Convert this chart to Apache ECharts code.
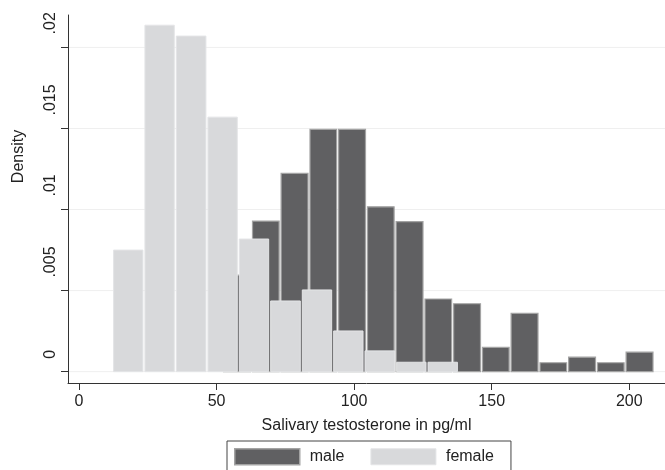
<!DOCTYPE html>
<html><head><meta charset="utf-8">
<script src="https://cdn.jsdelivr.net/npm/echarts@6/dist/echarts.min.js"></script>
<style>html,body{margin:0;padding:0;background:#fff}#c{width:665px;height:470px}</style>
</head><body><div id="c"></div><script>
// Bin edges (pg/ml) and densities
const femaleEdges = [12.2, 23.6, 35.0, 46.5, 57.9, 69.3, 80.8, 92.2, 103.6, 115.1, 126.5, 137.9];
const femaleDensity = [0.0075, 0.02137, 0.0207, 0.0157, 0.00818, 0.00436, 0.00504, 0.00251, 0.00128, 0.00058, 0.00058];
const maleEdges = [52.2, 62.7, 73.1, 83.6, 94.0, 104.5, 114.9, 125.4, 135.8, 146.3, 156.7, 167.2, 177.6, 188.1, 198.5, 209.0];
const maleDensity = [0.00596, 0.00929, 0.01223, 0.01494, 0.01494, 0.01017, 0.00925, 0.00448, 0.00419, 0.0015, 0.0036, 0.00055, 0.00089, 0.00055, 0.0012];
const xTicks = [0, 50, 100, 150, 200];
const xTickLabels = ['0', '50', '100', '150', '200'];
const yTicks = [0, 0.005, 0.01, 0.015, 0.02];
const yTickLabels = ['0', '.005', '.01', '.015', '.02'];
const seriesNames = ['male', 'female'];

const FONT = 'Liberation Sans, Arial, sans-serif';
const MALE_FILL = '#606062', MALE_STROKE = '#a3a3a3';
const FEMALE_FILL = '#d8d9db', FEMALE_STROKE = '#e4e5e7';

function binRows(edges, dens) {
  return dens.map((d, i) => [edges[i], edges[i + 1], d]);
}
function barRenderer(fill, stroke, lw) {
  return function (params, api) {
    const x0 = api.value(0), x1 = api.value(1), v = api.value(2);
    const p0 = api.coord([x0, v]);
    const p1 = api.coord([x1, 0]);
    const inset = 1;
    return {
      type: 'rect',
      shape: { x: p0[0] + inset, y: p0[1], width: p1[0] - p0[0] - 2 * inset, height: p1[1] - p0[1] },
      style: { fill: fill, stroke: stroke, lineWidth: lw }
    };
  };
}
function fmtTick(ticks, labels) {
  return function (v) {
    for (let i = 0; i < ticks.length; i++) if (Math.abs(ticks[i] - v) < 1e-9) return labels[i];
    return '';
  };
}

const chart = echarts.init(document.getElementById('c'), null, { renderer: 'canvas' });
chart.setOption({
  animation: false,
  backgroundColor: '#ffffff',
  textStyle: { fontFamily: FONT },
  grid: { left: 68, right: 0, top: 15, bottom: 87, containLabel: false },
  xAxis: {
    type: 'value', min: -4, max: 213,
    name: 'Salivary testosterone in pg/ml', nameLocation: 'middle', nameGap: 35,
    nameTextStyle: { fontSize: 16, color: '#222', fontFamily: FONT, verticalAlign: 'top' },
    axisLine: { show: true, onZero: false, lineStyle: { color: '#333', width: 1 } },
    axisTick: { show: true, length: 7, customValues: xTicks, lineStyle: { color: '#333' } },
    axisLabel: { customValues: xTicks, formatter: fmtTick(xTicks, xTickLabels), fontSize: 16, color: '#222', margin: 11, fontFamily: FONT },
    splitLine: { show: false }
  },
  yAxis: {
    type: 'value', min: -0.0007, max: 0.022,
    name: 'Density', nameLocation: 'middle', nameGap: 41, nameRotate: 90,
    nameTextStyle: { fontSize: 16, color: '#222', fontFamily: FONT, align: 'center', verticalAlign: 'bottom', padding: [0, 0, 0, 85] },
    axisLine: { show: true, onZero: false, lineStyle: { color: '#333', width: 1 } },
    axisTick: { show: true, length: 7, customValues: yTicks, lineStyle: { color: '#333' } },
    axisLabel: {
      customValues: yTicks, formatter: fmtTick(yTicks, yTickLabels), rotate: 90,
      fontSize: 16, color: '#222', margin: 9, align: 'left', verticalAlign: 'bottom',
      padding: [0, 0, 0, 13], fontFamily: FONT
    },
    splitLine: { show: false }
  },
  legend: {
    data: [
      { name: seriesNames[0], icon: 'rect', itemStyle: { color: MALE_FILL, borderColor: MALE_STROKE, borderWidth: 1.5 } },
      { name: seriesNames[1], icon: 'rect', itemStyle: { color: FEMALE_FILL, borderColor: FEMALE_STROKE, borderWidth: 1 } }
    ],
    left: 227, top: 441, orient: 'horizontal',
    itemWidth: 65, itemHeight: 16, itemGap: 26,
    padding: [7, 17, 30, 7],
    borderColor: '#444', borderWidth: 1, backgroundColor: '#fff',
    textStyle: { fontSize: 16, color: '#222', fontFamily: FONT, padding: [0, 0, 0, 5] },
    selectedMode: false
  },
  series: [
    {
      name: 'grid', type: 'custom', silent: true, z: 0,
      data: yTicks.map(v => [0, v]), encode: { x: 0, y: 1 },
      renderItem: function (params, api) {
        const y = api.coord([0, api.value(1)])[1];
        const cs = params.coordSys;
        return { type: 'line', shape: { x1: cs.x + 1, y1: y, x2: cs.x + cs.width, y2: y }, style: { stroke: '#efefef', lineWidth: 1 } };
      }
    },
    {
      name: seriesNames[0], type: 'custom', z: 2,
      data: binRows(maleEdges, maleDensity), encode: { x: [0, 1], y: 2 },
      renderItem: barRenderer(MALE_FILL, MALE_STROKE, 1.2)
    },
    {
      name: seriesNames[1], type: 'custom', z: 3,
      data: binRows(femaleEdges, femaleDensity), encode: { x: [0, 1], y: 2 },
      renderItem: barRenderer(FEMALE_FILL, FEMALE_STROKE, 1)
    }
  ]
});
</script></body></html>
